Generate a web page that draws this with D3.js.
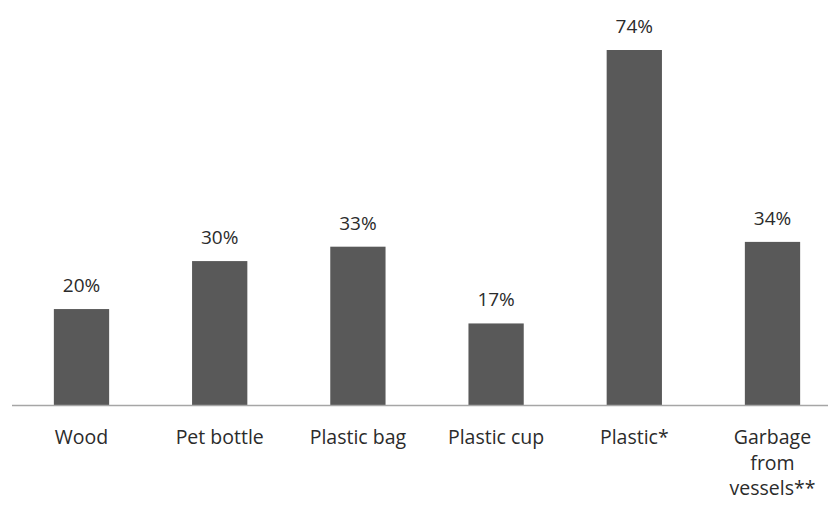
<!DOCTYPE html>
<html><head><meta charset="utf-8">
<script src="https://cdn.jsdelivr.net/npm/d3@7"></script>
<style>body{margin:0;background:#fff}svg{display:block}</style>
</head><body>
<script>
const categories = ["Wood", "Pet bottle", "Plastic bag", "Plastic cup", "Plastic*", "Garbage\nfrom\nvessels**"];
const values = [20, 30, 33, 17, 74, 34];

const W = 839, H = 506, baseY = 405;
const svg = d3.select("body").append("svg").attr("width", W).attr("height", H);
const x = d3.scaleBand().domain(categories).range([12.4, 841.6]).paddingInner(0.6).paddingOuter(0.3);
const y = d3.scaleLinear().domain([0, 74]).range([baseY, 50]);

svg.selectAll("rect.bar").data(values).join("rect")
  .attr("class", "bar")
  .attr("x", (d, i) => x(categories[i]))
  .attr("width", x.bandwidth())
  .attr("y", d => y(d))
  .attr("height", d => baseY - y(d))
  .attr("fill", "#595959");

svg.append("line").attr("x1", 12).attr("x2", 828).attr("y1", baseY + 0.5).attr("y2", baseY + 0.5)
  .attr("stroke", "#a6a6a6").attr("stroke-width", 1.5);

svg.selectAll("text.val").data(values).join("text")
  .attr("class", "val")
  .attr("x", (d, i) => x(categories[i]) + x.bandwidth() / 2)
  .attr("y", d => y(d) - 17)
  .attr("text-anchor", "middle")
  .attr("font-family", "Open Sans, sans-serif")
  .attr("font-size", 19)
  .attr("fill", "#2b2b2b")
  .text(d => d + "%");

const cat = svg.selectAll("text.cat").data(categories).join("text")
  .attr("class", "cat")
  .attr("x", d => x(d) + x.bandwidth() / 2)
  .attr("y", 444)
  .attr("text-anchor", "middle")
  .attr("font-family", "Open Sans, sans-serif")
  .attr("font-size", 19.5)
  .attr("fill", "#2b2b2b");
cat.each(function(d) {
  const t = d3.select(this);
  d.split("\n").forEach((line, j) => {
    t.append("tspan").attr("x", x(d) + x.bandwidth() / 2).attr("dy", j === 0 ? 0 : 25.5).text(line);
  });
});
</script>
</body></html>
